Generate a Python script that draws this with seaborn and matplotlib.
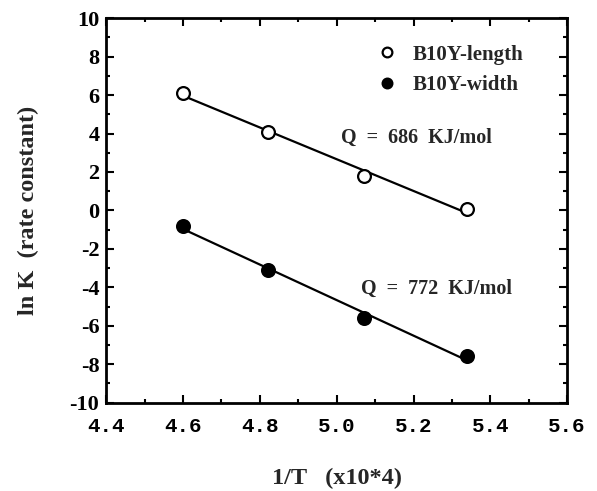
import numpy as np
import pandas as pd
import matplotlib
matplotlib.use("Agg")
import matplotlib.pyplot as plt
from matplotlib.ticker import MultipleLocator
import seaborn as sns

# Arrhenius data: ln K versus reciprocal temperature
inv_T = [4.60, 4.82, 5.07, 5.34]
lnk_length = [6.1, 4.1, 1.8, 0.05]
lnk_width = [-0.8, -3.1, -5.6, -7.6]

series_names = ["B10Y-length", "B10Y-width"]
q_labels = ["Q  =  686  KJ/mol", "Q  =  772  KJ/mol"]

x_ticks = [4.4, 4.6, 4.8, 5.0, 5.2, 5.4, 5.6]
x_tick_labels = ["4.4", "4.6", "4.8", "5.0", "5.2", "5.4", "5.6"]
y_ticks = [-10, -8, -6, -4, -2, 0, 2, 4, 6, 8, 10]

sns.set_theme(style="ticks")
plt.rcParams["font.family"] = ["Liberation Serif", "DejaVu Serif"]
plt.rcParams["font.weight"] = "bold"
plt.rcParams["axes.unicode_minus"] = False

df = pd.concat([
    pd.DataFrame({"x": inv_T, "y": lnk_length, "series": series_names[0]}),
    pd.DataFrame({"x": inv_T, "y": lnk_width, "series": series_names[1]}),
])

fig = plt.figure(figsize=(5.97, 4.91), dpi=100)
ax = fig.add_axes([0.178, 0.180, 0.772, 0.783])

fills = {series_names[0]: "white", series_names[1]: "black"}
for name in series_names:
    sub = df[df["series"] == name]
    sns.regplot(data=sub, x="x", y="y", ci=None, ax=ax, truncate=True,
                scatter=False, line_kws=dict(color="black", lw=1.6))
    sns.scatterplot(data=sub, x="x", y="y", ax=ax, s=85, marker="o",
                    edgecolor="black", linewidth=1.6,
                    facecolor=fills[name], zorder=3, legend=False)

# legend with markers only
handles = [
    plt.Line2D([], [], ls="none", marker="o", ms=7, mfc="white", mec="black", mew=1.6),
    plt.Line2D([], [], ls="none", marker="o", ms=7, mfc="black", mec="black", mew=1.6),
]
ax.legend(handles, series_names, loc="upper left", frameon=False,
          bbox_to_anchor=(0.545, 0.98), handletextpad=0.75, labelspacing=0.5,
          handlelength=1.0, prop=dict(family="Liberation Serif", weight="bold", size=15))

ax.text(5.207, 3.77, q_labels[0], fontsize=14.5, fontweight="bold", ha="center", va="center")
ax.text(5.26, -4.08, q_labels[1], fontsize=14.5, fontweight="bold", ha="center", va="center")

ax.set_xlim(4.4, 5.6)
ax.set_ylim(-10, 10)
ax.set_xticks(x_ticks)
ax.set_xticklabels(x_tick_labels, family="Liberation Mono", fontweight="bold", fontsize=15)
ax.set_yticks(y_ticks)
ax.set_yticklabels([str(v) for v in y_ticks], fontweight="bold", fontsize=16)
ax.xaxis.set_minor_locator(MultipleLocator(0.1))
ax.yaxis.set_minor_locator(MultipleLocator(1))
ax.tick_params(which="both", direction="in", top=True, right=True, width=1.5, colors="black")
ax.tick_params(which="major", length=6)
ax.tick_params(axis="x", which="major", pad=10)
ax.tick_params(axis="y", which="major", pad=5)
ax.tick_params(which="minor", length=3)
for sp in ax.spines.values():
    sp.set_linewidth(2)
    sp.set_color("black")

ax.set_xlabel("1/T   (x10*4)", fontsize=17.5, fontweight="bold", labelpad=23)
ax.set_ylabel("ln K  (rate constant)", fontsize=17.5, fontweight="bold", labelpad=22)

fig.savefig("out.png", dpi=100, facecolor="white")
